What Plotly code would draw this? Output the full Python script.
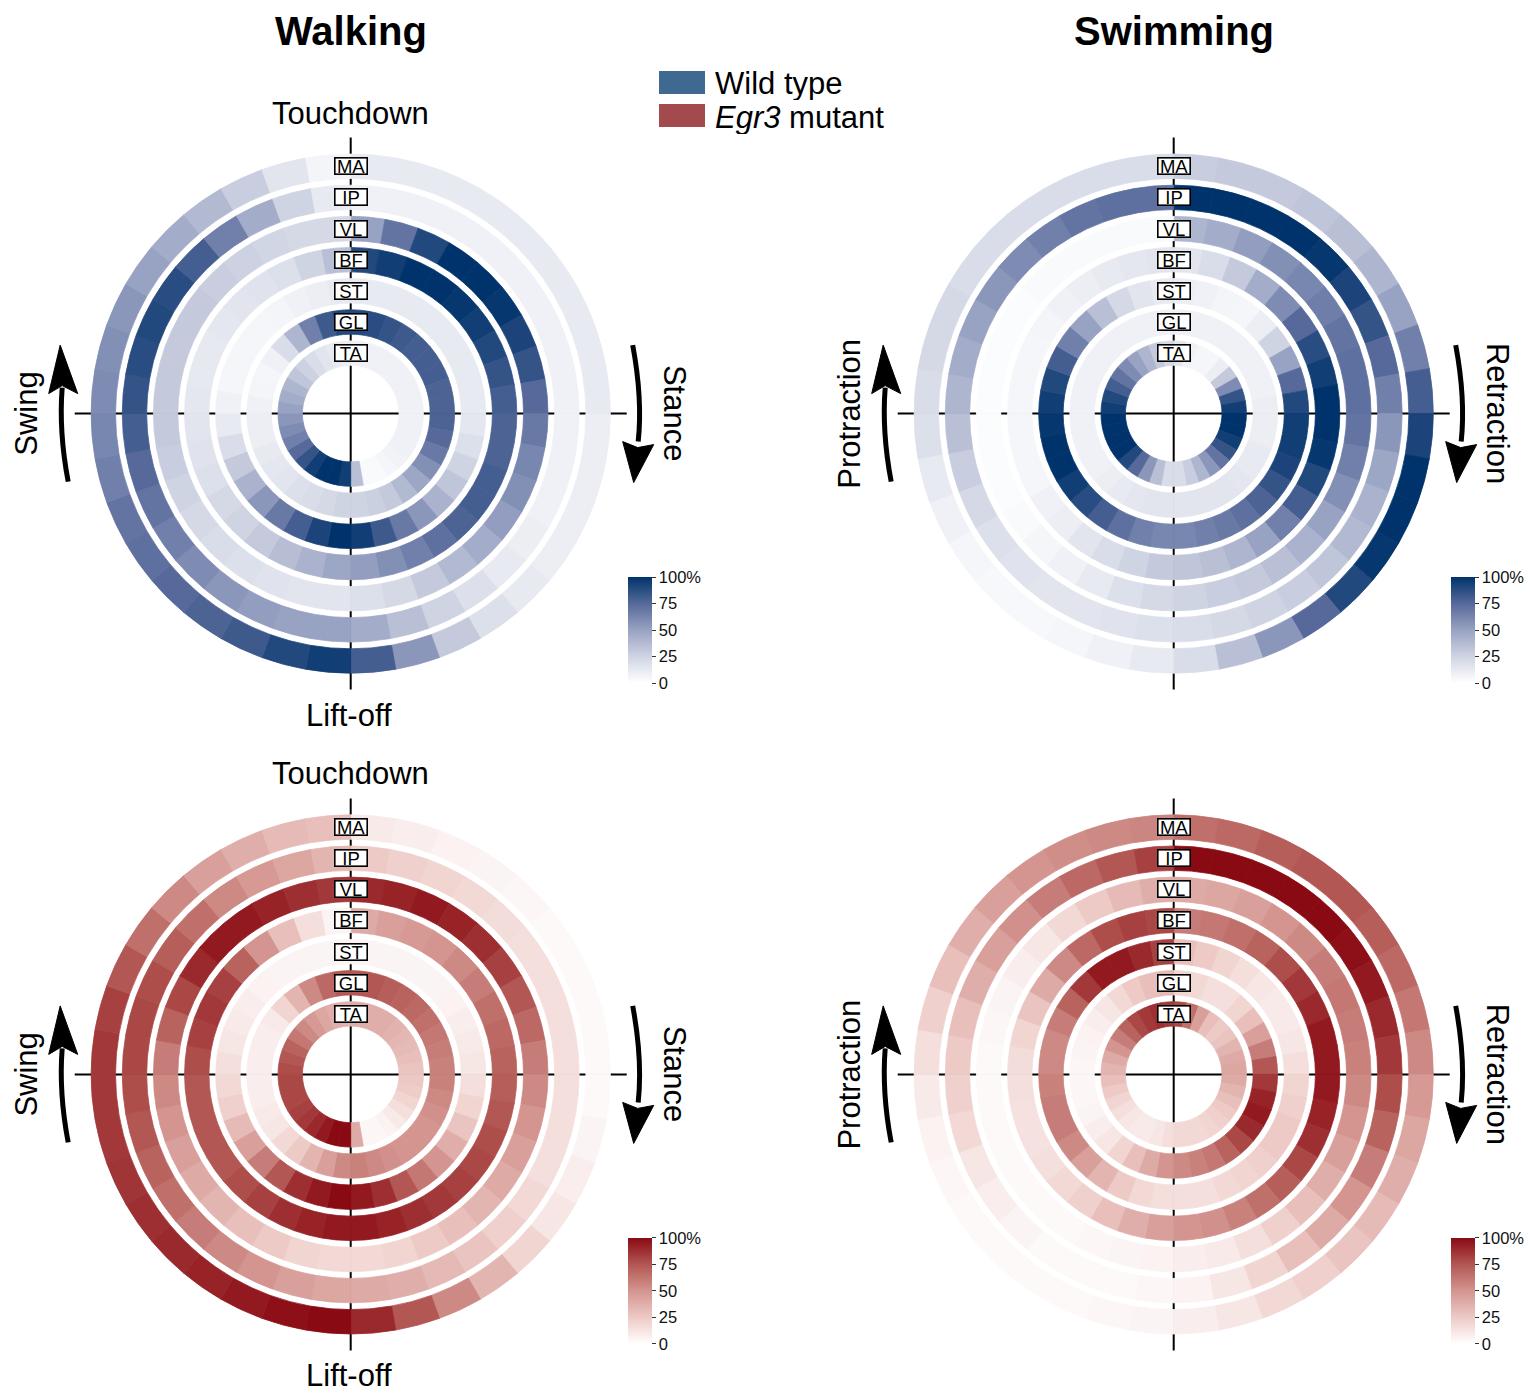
import plotly.graph_objects as go

W, H = 1529, 1392
FONT = "Liberation Sans, Arial, sans-serif"

# Muscles from the innermost ring to the outermost ring
MUSCLES = ["TA", "GL", "ST", "BF", "VL", "IP", "MA"]
# Step-cycle bins (degrees clockwise from touchdown), 10 degree each
PHASE_DEG = [5, 15, 25, 35, 45, 55, 65, 75, 85, 95, 105, 115, 125, 135, 145, 155, 165, 175,
             185, 195, 205, 215, 225, 235, 245, 255, 265, 275, 285, 295, 305, 315, 325, 335, 345, 355]

# ---- Walking, wild type (% of peak activity per bin) ----
WALK_WT_TA = [8, 8, 8, 8, 8, 8, 8, 8, 8, 8, 8, 8, 8, 7, 5, 3, 3, 35,
              95, 100, 100, 95, 85, 75, 65, 60, 55, 50, 45, 40, 32, 26, 20, 15, 12, 10]
WALK_WT_GL = [90, 88, 85, 82, 80, 80, 80, 78, 78, 78, 75, 68, 58, 48, 38, 30, 27, 25,
              25, 22, 20, 18, 15, 14, 12, 10, 10, 8, 6, 5, 8, 20, 40, 65, 82, 90]
WALK_WT_ST = [12, 12, 12, 12, 12, 12, 12, 12, 12, 14, 18, 25, 32, 42, 55, 68, 82, 95,
              100, 92, 80, 68, 55, 42, 30, 20, 12, 8, 5, 5, 5, 5, 6, 8, 10, 12]
WALK_WT_BF = [90, 95, 100, 100, 98, 95, 90, 85, 80, 78, 78, 80, 80, 78, 72, 65, 58, 52,
              48, 42, 36, 30, 25, 22, 18, 16, 15, 14, 13, 13, 14, 15, 16, 18, 25, 35]
WALK_WT_VL = [50, 70, 90, 100, 100, 98, 92, 85, 75, 68, 62, 58, 52, 45, 38, 30, 22, 18,
              15, 15, 16, 18, 20, 22, 25, 28, 30, 30, 30, 30, 30, 28, 26, 24, 22, 22]
WALK_WT_IP = [8, 8, 8, 8, 8, 8, 8, 8, 8, 8, 8, 8, 10, 12, 18, 25, 35, 45,
              50, 50, 52, 55, 60, 65, 70, 75, 80, 85, 88, 90, 88, 80, 65, 45, 25, 12]
WALK_WT_MA = [12, 12, 12, 12, 12, 12, 12, 12, 12, 10, 10, 10, 10, 12, 18, 30, 55, 80,
              95, 90, 82, 78, 75, 72, 70, 65, 62, 60, 58, 55, 50, 45, 38, 28, 15, 6]

# ---- Swimming, wild type ----
SWIM_WT_TA = [15, 8, 5, 5, 10, 30, 60, 85, 95, 100, 100, 95, 85, 70, 55, 40, 28, 20,
              20, 35, 55, 75, 90, 100, 100, 100, 100, 95, 90, 80, 70, 60, 50, 40, 30, 22]
SWIM_WT_GL = [8, 8, 8, 8, 8, 8, 8, 8, 10, 10, 10, 12, 12, 14, 15, 15, 15, 15,
              15, 15, 14, 12, 10, 8, 8, 8, 8, 8, 8, 8, 8, 8, 8, 8, 8, 8]
SWIM_WT_ST = [10, 8, 6, 5, 10, 25, 50, 75, 90, 95, 95, 92, 85, 78, 72, 68, 65, 62,
              62, 65, 72, 80, 88, 95, 100, 100, 98, 95, 90, 80, 65, 50, 35, 22, 15, 12]
SWIM_WT_BF = [15, 20, 30, 45, 60, 75, 88, 95, 100, 100, 98, 90, 80, 65, 50, 40, 35, 32,
              30, 25, 20, 15, 10, 8, 5, 5, 5, 5, 5, 5, 6, 8, 10, 12, 14, 15]
SWIM_WT_VL = [40, 45, 52, 58, 62, 66, 70, 72, 72, 70, 65, 58, 50, 42, 35, 30, 28, 25,
              22, 18, 12, 8, 5, 3, 2, 2, 2, 2, 2, 2, 2, 3, 3, 3, 3, 3]
SWIM_WT_IP = [100, 100, 100, 100, 98, 92, 85, 75, 65, 55, 48, 42, 38, 32, 28, 25, 22, 20,
              18, 16, 15, 15, 16, 18, 22, 28, 35, 40, 45, 50, 55, 60, 65, 70, 72, 72]
SWIM_WT_MA = [28, 30, 30, 32, 35, 40, 50, 65, 80, 92, 100, 100, 98, 90, 75, 55, 35, 20,
              12, 8, 5, 4, 4, 5, 8, 12, 18, 20, 22, 22, 20, 20, 20, 20, 20, 20]

# ---- Walking, Egr3 mutant ----
WALK_MUT_TA = [38, 38, 38, 38, 36, 34, 32, 30, 28, 26, 24, 20, 15, 10, 6, 4, 4, 40,
               100, 100, 95, 90, 85, 82, 80, 80, 80, 78, 75, 70, 62, 55, 48, 42, 38, 36]
WALK_MUT_GL = [75, 75, 72, 70, 68, 65, 62, 60, 58, 58, 55, 52, 50, 50, 50, 52, 55, 58,
               55, 45, 35, 25, 18, 12, 10, 8, 8, 8, 8, 8, 10, 20, 35, 55, 68, 75]
WALK_MUT_ST = [5, 5, 5, 5, 5, 6, 8, 10, 12, 15, 20, 28, 38, 50, 62, 75, 88, 95,
               100, 95, 88, 75, 60, 45, 32, 22, 18, 15, 12, 10, 8, 6, 5, 5, 5, 5]
WALK_MUT_BF = [40, 45, 48, 50, 55, 60, 65, 68, 70, 72, 75, 78, 80, 82, 85, 88, 92, 95,
               95, 92, 88, 82, 78, 75, 75, 75, 75, 78, 82, 85, 82, 70, 50, 30, 15, 5]
WALK_MUT_VL = [90, 92, 95, 92, 88, 82, 75, 68, 60, 55, 50, 45, 40, 35, 30, 25, 20, 18,
               18, 20, 25, 30, 35, 40, 45, 50, 55, 60, 70, 80, 90, 95, 95, 92, 88, 85]
WALK_MUT_IP = [25, 22, 20, 18, 16, 15, 15, 15, 15, 15, 15, 15, 18, 22, 28, 33, 38, 40,
               42, 45, 50, 55, 60, 65, 70, 75, 78, 80, 80, 78, 72, 65, 55, 48, 42, 35]
WALK_MUT_MA = [10, 8, 6, 5, 4, 3, 3, 3, 3, 3, 5, 8, 12, 20, 35, 55, 75, 90,
               100, 98, 95, 92, 90, 88, 86, 85, 85, 85, 82, 75, 65, 55, 45, 38, 32, 30]

# ---- Swimming, Egr3 mutant ----
SWIM_MUT_TA = [80, 65, 45, 30, 25, 28, 35, 40, 42, 40, 35, 30, 25, 22, 20, 18, 18, 18,
               15, 12, 10, 10, 12, 15, 20, 25, 30, 35, 40, 50, 60, 70, 80, 85, 88, 85]
SWIM_MUT_GL = [20, 18, 15, 15, 20, 30, 45, 60, 75, 85, 92, 95, 90, 80, 70, 62, 58, 55,
               50, 40, 30, 20, 12, 8, 5, 4, 4, 4, 5, 6, 8, 12, 18, 25, 30, 33]
SWIM_MUT_ST = [30, 25, 20, 15, 12, 10, 10, 12, 15, 20, 22, 25, 25, 22, 20, 18, 15, 15,
               15, 18, 25, 35, 45, 55, 60, 60, 58, 55, 55, 60, 70, 85, 95, 95, 90, 82]
SWIM_MUT_BF = [60, 62, 65, 70, 78, 85, 90, 95, 95, 95, 92, 88, 80, 72, 65, 58, 52, 50,
               45, 38, 30, 22, 18, 15, 14, 14, 15, 16, 20, 28, 40, 55, 68, 78, 82, 80]
SWIM_MUT_VL = [40, 42, 45, 50, 55, 60, 62, 60, 58, 55, 50, 45, 38, 30, 22, 15, 10, 8,
               6, 5, 4, 3, 3, 3, 3, 3, 3, 3, 4, 5, 8, 12, 18, 25, 32, 38]
SWIM_MUT_IP = [100, 100, 100, 100, 100, 98, 95, 90, 85, 78, 70, 60, 50, 40, 30, 20, 12, 6,
               4, 3, 3, 3, 5, 8, 12, 18, 22, 25, 30, 38, 45, 52, 60, 68, 75, 82]
SWIM_MUT_MA = [65, 68, 72, 75, 75, 72, 68, 62, 55, 48, 42, 38, 32, 28, 22, 18, 12, 8,
               5, 4, 3, 3, 3, 3, 4, 6, 10, 15, 22, 30, 38, 45, 50, 53, 55, 56]

CBAR_TICKS = [0, 25, 50, 75, 100]
CBAR_TEXT = ["0", "25", "50", "75", "100%"]

BLUES = [[0.0, "#ffffff"], [0.25, "#cfd4e3"], [0.5, "#98a2c2"], [0.75, "#56699a"], [1.0, "#00336b"]]
REDS = [[0.0, "#ffffff"], [0.25, "#edcac6"], [0.5, "#d49590"], [0.75, "#b25753"], [1.0, "#8a0a13"]]

# ring geometry (radial axis units == pixels)
RING_IN0 = 48.3
RING_STEP = 31.15
RING_W = 24.4
R_MAX = 276

PANELS = [
    dict(sub="polar", cx=350.7, cy=413.6, data=[WALK_WT_TA, WALK_WT_GL, WALK_WT_ST, WALK_WT_BF,
                                                  WALK_WT_VL, WALK_WT_IP, WALK_WT_MA],
         scale=BLUES, left="Swing", right="Stance", events=True),
    dict(sub="polar2", cx=1173.7, cy=413.6, data=[SWIM_WT_TA, SWIM_WT_GL, SWIM_WT_ST, SWIM_WT_BF,
                                                    SWIM_WT_VL, SWIM_WT_IP, SWIM_WT_MA],
         scale=BLUES, left="Protraction", right="Retraction", events=False),
    dict(sub="polar3", cx=350.7, cy=1074.4, data=[WALK_MUT_TA, WALK_MUT_GL, WALK_MUT_ST, WALK_MUT_BF,
                                                    WALK_MUT_VL, WALK_MUT_IP, WALK_MUT_MA],
         scale=REDS, left="Swing", right="Stance", events=True),
    dict(sub="polar4", cx=1173.7, cy=1074.4, data=[SWIM_MUT_TA, SWIM_MUT_GL, SWIM_MUT_ST, SWIM_MUT_BF,
                                                     SWIM_MUT_VL, SWIM_MUT_IP, SWIM_MUT_MA],
         scale=REDS, left="Protraction", right="Retraction", events=False),
]


def px(x):
    return x / W


def py(y):
    return 1 - y / H


fig = go.Figure()
shapes, annotations = [], []
layout_polars = {}

for p in PANELS:
    cx, cy = p["cx"], p["cy"]
    theta, base, rr, col = [], [], [], []
    for k, vals in enumerate(p["data"]):
        for ang, v in zip(PHASE_DEG, vals):
            theta.append(ang)
            base.append(RING_IN0 + k * RING_STEP)
            rr.append(RING_W)
            col.append(v)
    cbar = dict(
        x=px(cx + 277), xanchor="left", y=py(cy + 216.5), yanchor="middle",
        len=106, lenmode="pixels", thickness=24, thicknessmode="pixels",
        tickvals=CBAR_TICKS, ticktext=CBAR_TEXT, ticks="outside", ticklen=4,
        tickwidth=1, tickcolor="#333", outlinewidth=0, xpad=0, ypad=0,
        tickfont=dict(family=FONT, size=16.5, color="#111"),
    )
    fig.add_trace(go.Barpolar(
        theta=theta, r=rr, base=base, width=10, subplot=p["sub"], hoverinfo="skip",
        marker=dict(color=col, colorscale=p["scale"], cmin=0, cmax=100, showscale=True,
                    colorbar=cbar,
                    line=dict(color=col, colorscale=p["scale"], cmin=0, cmax=100, width=0.8)),
    ))
    layout_polars[p["sub"]] = dict(
        domain=dict(x=[px(cx - R_MAX), px(cx + R_MAX)], y=[py(cy + R_MAX), py(cy - R_MAX)]),
        bgcolor="rgba(0,0,0,0)",
        angularaxis=dict(rotation=90, direction="clockwise", visible=False),
        radialaxis=dict(range=[0, R_MAX], visible=False),
    )

    # cross-hair through the centre, underneath the rings
    shapes.append(dict(type="line", xref="paper", yref="paper", layer="below",
                       x0=px(cx - R_MAX), x1=px(cx + R_MAX), y0=py(cy), y1=py(cy),
                       line=dict(color="black", width=2)))
    shapes.append(dict(type="line", xref="paper", yref="paper", layer="below",
                       x0=px(cx), x1=px(cx), y0=py(cy - R_MAX), y1=py(cy + R_MAX),
                       line=dict(color="black", width=2)))

    # muscle name tags
    for k, name in enumerate(MUSCLES):
        rc = RING_IN0 + k * RING_STEP + RING_W / 2
        annotations.append(dict(
            x=px(cx), y=py(cy - rc), xref="paper", yref="paper", text=name, showarrow=False,
            font=dict(family=FONT, size=18.5, color="black"), bgcolor="white",
            bordercolor="black", borderwidth=1.6, borderpad=0, width=31, height=15,
            xanchor="center", yanchor="middle"))

    # phase names
    if p["events"]:
        annotations.append(dict(x=px(cx), y=py(cy - 300.5), xref="paper", yref="paper",
                                text="Touchdown", showarrow=False,
                                font=dict(family=FONT, size=31, color="black"),
                                xanchor="center", yanchor="middle"))
        annotations.append(dict(x=px(cx - 1.5), y=py(cy + 301.5), xref="paper", yref="paper",
                                text="Lift-off", showarrow=False,
                                font=dict(family=FONT, size=31, color="black"),
                                xanchor="center", yanchor="middle"))
    annotations.append(dict(x=px(cx - 324.5), y=py(cy), xref="paper", yref="paper",
                            text=p["left"], textangle=-90, showarrow=False,
                            font=dict(family=FONT, size=31, color="black"),
                            xanchor="center", yanchor="middle"))
    annotations.append(dict(x=px(cx + 324), y=py(cy), xref="paper", yref="paper",
                            text=p["right"], textangle=90, showarrow=False,
                            font=dict(family=FONT, size=31, color="black"),
                            xanchor="center", yanchor="middle"))

    # curved direction arrows
    def pt(dx, dy):
        return f"{px(cx + dx):.5f},{py(cy + dy):.5f}"

    shapes.append(dict(type="path", xref="paper", yref="paper", layer="above",
                       path=f"M {pt(-282.5, 68)} Q {pt(-292, 18)} {pt(-288.5, -26)}",
                       line=dict(color="black", width=5)))
    shapes.append(dict(type="path", xref="paper", yref="paper", layer="above",
                       path=f"M {pt(-290.5, -68.5)} L {pt(-302, -20)} L {pt(-288.5, -28)} "
                            f"L {pt(-273, -20)} Z",
                       fillcolor="black", line=dict(color="black", width=1)))
    shapes.append(dict(type="path", xref="paper", yref="paper", layer="above",
                       path=f"M {pt(282, -68.5)} Q {pt(292, -15)} {pt(287.5, 28)}",
                       line=dict(color="black", width=5)))
    shapes.append(dict(type="path", xref="paper", yref="paper", layer="above",
                       path=f"M {pt(283, 69)} L {pt(272, 28)} L {pt(287, 34)} "
                            f"L {pt(303, 31)} Z",
                       fillcolor="black", line=dict(color="black", width=1)))

# column titles
for label, cx in (("Walking", 350.7), ("Swimming", 1173.7)):
    annotations.append(dict(x=px(cx), y=py(31), xref="paper", yref="paper",
                            text=f"<b>{label}</b>", showarrow=False,
                            font=dict(family=FONT, size=40, color="black"),
                            xanchor="center", yanchor="middle"))

# genotype key
shapes.append(dict(type="rect", xref="paper", yref="paper", x0=px(659), x1=px(705),
                   y0=py(94), y1=py(71), fillcolor="#3f6990", line=dict(width=0)))
shapes.append(dict(type="rect", xref="paper", yref="paper", x0=px(659), x1=px(705),
                   y0=py(127), y1=py(104), fillcolor="#a34a4f", line=dict(width=0)))
annotations.append(dict(x=px(713), y=py(83), xref="paper", yref="paper", text="Wild type",
                        showarrow=False, font=dict(family=FONT, size=31, color="black"),
                        xanchor="left", yanchor="middle", height=34))
annotations.append(dict(x=px(713), y=py(117), xref="paper", yref="paper",
                        text="<i>Egr3</i> mutant", showarrow=False,
                        font=dict(family=FONT, size=31, color="black"),
                        xanchor="left", yanchor="middle", height=34))

fig.update_layout(
    width=W, height=H, margin=dict(l=0, r=0, t=0, b=0),
    paper_bgcolor="white", plot_bgcolor="white", showlegend=False,
    shapes=shapes, annotations=annotations, **layout_polars,
)

fig.write_html("out.html")
